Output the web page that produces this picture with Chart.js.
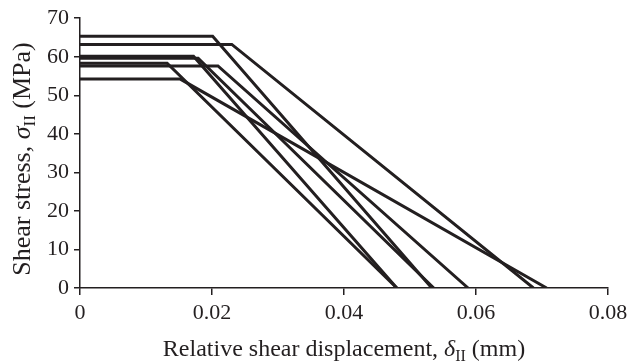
<!DOCTYPE html>
<html>
<head>
<meta charset="utf-8">
<script src="https://cdn.jsdelivr.net/npm/chart.js@4"></script>
<style>
  html, body { margin: 0; padding: 0; background: #fff; }
  #wrap { width: 634px; height: 363px; }
</style>
</head>
<body>
<div id="wrap"><canvas id="tslChart"></canvas></div>
<script>
// Trapezoidal traction-separation laws (one per specimen)
const peakStress = [65.3, 63.2, 60.1, 59.6, 58.3, 57.6, 54.2]; // MPa
const plateauEnd = [0.0201, 0.0230, 0.0172, 0.0179, 0.0132, 0.0209, 0.0152]; // mm
const finalDisp = [0.0533, 0.0687, 0.0480, 0.0536, 0.0480, 0.0588, 0.0707]; // mm

const xTicks = [0, 0.02, 0.04, 0.06, 0.08];
const yTicks = [0, 10, 20, 30, 40, 50, 60, 70];

const ink = '#231f20';
const serif = '"Liberation Serif", "Times New Roman", serif';

const datasets = peakStress.map((s, i) => ({
    data: [
        { x: 0, y: s },
        { x: plateauEnd[i], y: s },
        { x: finalDisp[i], y: 0 }
    ],
    showLine: true,
    borderColor: ink,
    borderWidth: 3,
    pointRadius: 0,
    tension: 0,
    fill: false
}));

// draws a label made of pieces with different fonts (subscripts)
function drawRich(ctx, parts, cx, baseY) {
    let total = 0;
    parts.forEach(p => { ctx.font = p.font; total += ctx.measureText(p.text).width; });
    let x = cx - total / 2;
    parts.forEach(p => {
        ctx.font = p.font;
        ctx.fillText(p.text, x, baseY + (p.dy || 0));
        x += ctx.measureText(p.text).width;
    });
}

const axisTitles = {
    id: 'axisTitles',
    afterDraw(chart) {
        const ctx = chart.ctx;
        const area = chart.chartArea;
        ctx.save();
        ctx.fillStyle = ink;
        ctx.textBaseline = 'alphabetic';
        ctx.textAlign = 'left';
        drawRich(ctx, [
            { text: 'Relative shear displacement, ', font: '24px ' + serif },
            { text: 'δ', font: 'italic 24px ' + serif },
            { text: 'II', font: '16px ' + serif, dy: 5 },
            { text: ' (mm)', font: '24px ' + serif }
        ], (area.left + area.right) / 2, 356);

        ctx.translate(30, 159);
        ctx.rotate(-Math.PI / 2);
        drawRich(ctx, [
            { text: 'Shear stress, ', font: '26px ' + serif },
            { text: 'σ', font: 'italic 26px ' + serif },
            { text: 'II', font: '17px ' + serif, dy: 5 },
            { text: ' (MPa)', font: '26px ' + serif }
        ], 0, 0);
        ctx.restore();
    }
};

const ctx = document.getElementById('tslChart').getContext('2d');
const tslChart = new Chart(ctx, {
    type: 'scatter',
    data: { datasets: datasets },
    options: {
        responsive: true,
        maintainAspectRatio: false,
        animation: false,
        layout: { padding: { top: 17, right: 26, left: 0, bottom: 0 } },
        scales: {
            x: {
                type: 'linear',
                min: 0,
                max: 0.08,
                afterBuildTicks: scale => { scale.ticks = xTicks.map(v => ({ value: v })); },
                afterFit: scale => { scale.height = 75; },
                ticks: {
                    color: ink,
                    font: { family: serif, size: 22 },
                    padding: 5,
                    maxRotation: 0,
                    callback: v => v === 0 ? '0' : v.toFixed(2)
                },
                grid: { drawOnChartArea: false, color: ink, tickLength: 7, lineWidth: 1.5 },
                border: { color: ink, width: 1.5 }
            },
            y: {
                min: 0,
                max: 70,
                afterBuildTicks: scale => { scale.ticks = yTicks.map(v => ({ value: v })); },
                afterFit: scale => { scale.width = 80; },
                ticks: {
                    color: ink,
                    font: { family: serif, size: 22 },
                    padding: 5
                },
                grid: { drawOnChartArea: false, color: ink, tickLength: 6, lineWidth: 1.5 },
                border: { color: ink, width: 1.5 }
            }
        },
        plugins: {
            legend: { display: false },
            tooltip: { enabled: false }
        }
    },
    plugins: [axisTitles]
});
</script>
</body>
</html>
